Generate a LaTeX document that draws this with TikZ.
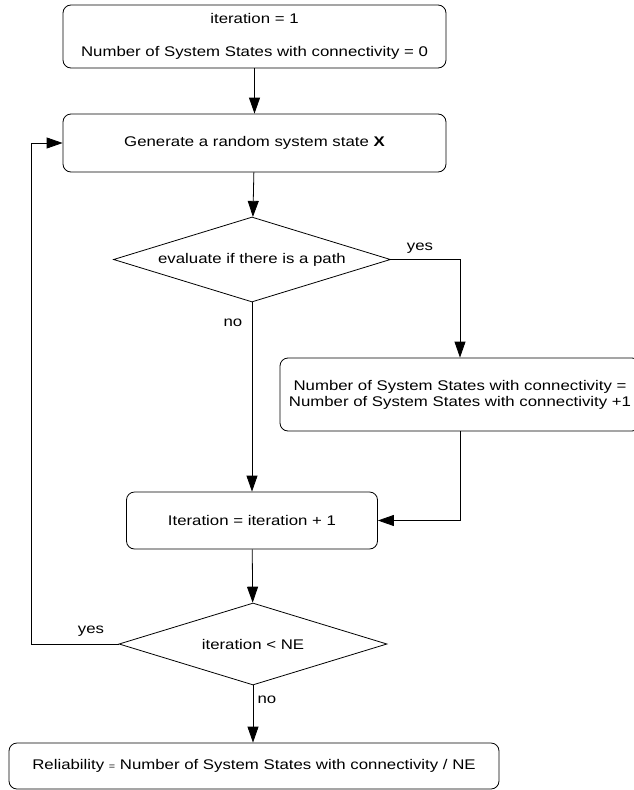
\documentclass[tikz,border=0pt]{standalone}
\usepackage{fontspec}
\setmainfont{Liberation Sans}[FakeStretch=1.2]
\usepackage{tikz}
\usetikzlibrary{arrows.meta,shapes,positioning,calc}

\tikzset{
  box/.style={draw, rounded corners=8pt, align=center, inner sep=0pt},
  decide/.style={draw, diamond, aspect=3, inner sep=0pt, align=center},
  flow/.style={-{Triangle[length=16pt,width=11pt]}},
  lbl/.style={inner sep=0pt}
}

\begin{document}
\begin{tikzpicture}[x=1pt, y=-1pt, line width=0.8pt, font=\fontsize{14}{16}\selectfont]
    \useasboundingbox (0,0) rectangle (634,790);
    \begin{scope}
    \clip (0,0) rectangle (634,790);

    % start
    \node[box, minimum width=383pt, minimum height=63pt] (init) at (254.5,36.5)
        {iteration = 1\\[17pt] Number of System States with connectivity = 0};
    \node[box, minimum width=383pt, minimum height=58pt] (gen) at (254.5,143)
        {Generate a random system state \textbf{X}};

    % first test
    \node[decide, minimum width=277pt, minimum height=85pt] (path) at (252,259.5)
        {evaluate if there is a path};
    \node[box, minimum width=360pt, minimum height=73pt] (count) at (460,394.5)
        {Number of System States with connectivity =\\ Number of System States with connectivity +1};
    \node[box, minimum width=251pt, minimum height=57pt] (next) at (252,520.5)
        {Iteration = iteration + 1};

    % second test
    \node[decide, minimum width=268pt, minimum height=82pt] (loop) at (253,644)
        {iteration < NE};
    \node[box, minimum width=490pt, minimum height=46pt] (rel) at (254,766)
        {Reliability {\fontsize{9}{10}\selectfont =} Number of System States with connectivity / NE};

    % connectors
    \draw[flow] (init) -- (gen);
    \draw[flow] (gen) -- (path);
    \draw[flow] (path.east) -| (count.north);
    \draw[flow] (path.south) -- (path.south |- next.north);
    \draw[flow] (count.south) |- (next.east);
    \draw[flow] (next) -- (loop);
    \draw[flow] (loop.south) -- (loop.south |- rel.north);
    \coordinate (back) at (31,644);
    \draw[flow] (loop.west) -- (back) |- (gen.west);

    % labels
    \node[lbl] (yes1) at (420,248) {yes};
    \node[lbl] (no1) at (233,323) {no};
    \node[lbl] (yes2) at (91,631) {yes};
    \node[lbl] (no2) at (267,700) {no};
    \end{scope}
\end{tikzpicture}
\end{document}
